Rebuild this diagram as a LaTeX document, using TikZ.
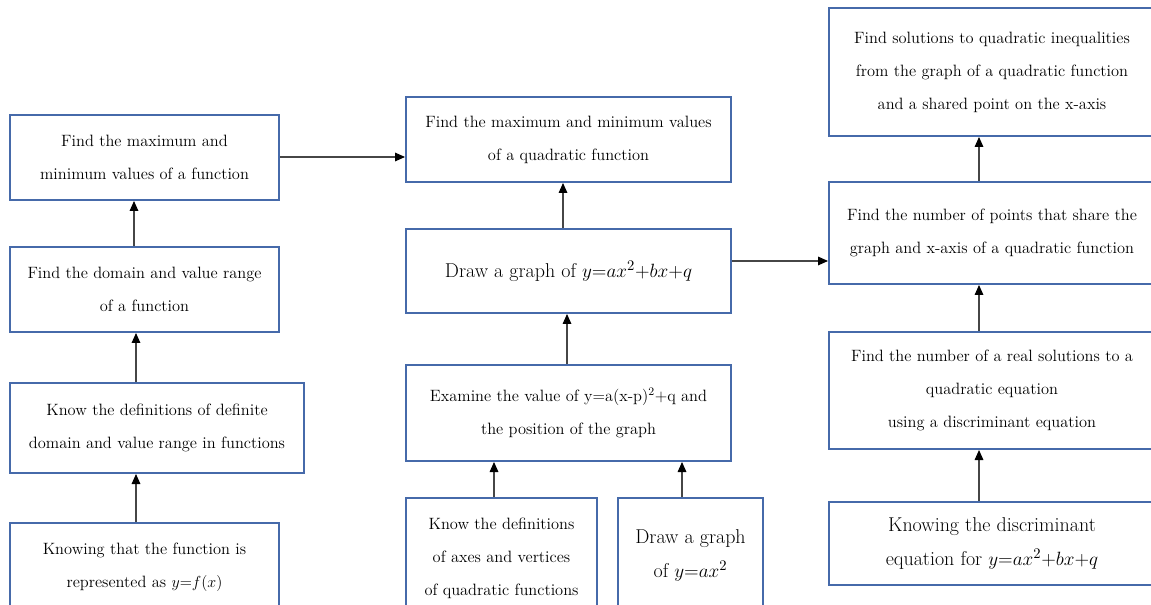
\documentclass[tikz,border=0pt]{standalone}
\usepackage{fontspec}
\setmainfont{Latin Modern Roman}
\usetikzlibrary{arrows.meta}
\definecolor{boxblue}{RGB}{70,106,170}
\definecolor{linegray}{RGB}{70,70,70}
\tikzset{
  bx/.style={draw=boxblue, line width=1.5pt, fill=white, align=center, inner sep=0pt,
    font=\fontsize{12.3}{24.75}\selectfont},
  bigtext/.style={font=\fontsize{15}{25.5}\selectfont},
  conn/.style={draw=linegray, line width=0.8pt, -{Triangle[length=7.5pt,width=6.5pt,color=black]}},
}
\begin{document}
\begin{tikzpicture}[x=0.75pt,y=-0.75pt]
\useasboundingbox (0,0) rectangle (1151,605);
\fill[white] (0,0) rectangle (1151,605);
\clip (0,0) rectangle (1151,605);

% left column
\node[bx, minimum width=201.75pt, minimum height=63.75pt] (L1) at (144.5,157.5)
  {Find the maximum and\\minimum values of a function};
\node[bx, minimum width=201.75pt, minimum height=63.75pt] (L2) at (144.5,289.5)
  {Find the domain and value range\\of a function};
\node[bx, minimum width=220.5pt, minimum height=67.5pt] (L3) at (157,428)
  {Know the definitions of definite\\domain and value range in functions};
\node[bx, minimum width=201.75pt, minimum height=66.75pt] (L4) at (144.5,567.5)
  {Knowing that the function is\\represented as $y{=}f(x)$};

% middle column
\node[bx, minimum width=243.75pt, minimum height=63.75pt] (M1) at (568.5,139.5)
  {Find the maximum and minimum values\\of a quadratic function};
\node[bx, bigtext, minimum width=243.75pt, minimum height=63pt] (M2) at (568.5,271)
  {Draw a graph of $y{=}ax^{2}{+}bx{+}q$};
\node[bx, minimum width=243.75pt, minimum height=72pt] (M3) at (568.5,413)
  {Examine the value of y=a(x-p)\textsuperscript{2}+q and\\the position of the graph};
\node[bx, minimum width=143.25pt, minimum height=90pt] (M4) at (501.5,558)
  {Know the definitions\\of axes and vertices\\of quadratic functions};
\node[bx, bigtext, minimum width=108.75pt, minimum height=85.5pt] (M5) at (690.5,555)
  {Draw a graph\\of $y{=}ax^{2}$};

% right column
\node[bx, minimum width=244.5pt, minimum height=96pt] (R1) at (992,72)
  {Find solutions to quadratic inequalities\\from the graph of a quadratic function\\and a shared point on the x-axis};
\node[bx, minimum width=244.5pt, minimum height=76.5pt] (R2) at (992,233)
  {Find the number of points that share the\\graph and x-axis of a quadratic function};
\node[bx, minimum width=244.5pt, minimum height=87.75pt] (R3) at (992,390.5)
  {Find the number of a real solutions to a\\quadratic equation\\using a discriminant equation};
\node[bx, bigtext, minimum width=244.5pt, minimum height=62.25pt] (R4) at (992,543.5)
  {Knowing the discriminant\\equation for $y{=}ax^{2}{+}bx{+}q$};

% helper coordinates for connector positions
\coordinate (xa) at (134,0);
\coordinate (xb) at (136,0);
\coordinate (xc) at (563,0);
\coordinate (xd) at (567,0);
\coordinate (xe) at (494,0);
\coordinate (xf) at (682,0);
\coordinate (xg) at (979,0);
\coordinate (ya) at (0,157);
\coordinate (yb) at (0,261);

% connectors
\draw[conn] (L2.north -| xa) -- (L1.south -| xa);
\draw[conn] (L3.north -| xb) -- (L2.south -| xb);
\draw[conn] (L4.north -| xb) -- (L3.south -| xb);
\draw[conn] (L1.east |- ya) -- (M1.west |- ya);
\draw[conn] (M2.north -| xc) -- (M1.south -| xc);
\draw[conn] (M3.north -| xd) -- (M2.south -| xd);
\draw[conn] (M4.north -| xe) -- (M3.south -| xe);
\draw[conn] (M5.north -| xf) -- (M3.south -| xf);
\draw[conn] (M2.east |- yb) -- (R2.west |- yb);
\draw[conn] (R2.north -| xg) -- (R1.south -| xg);
\draw[conn] (R3.north -| xg) -- (R2.south -| xg);
\draw[conn] (R4.north -| xg) -- (R3.south -| xg);
\end{tikzpicture}
\end{document}
